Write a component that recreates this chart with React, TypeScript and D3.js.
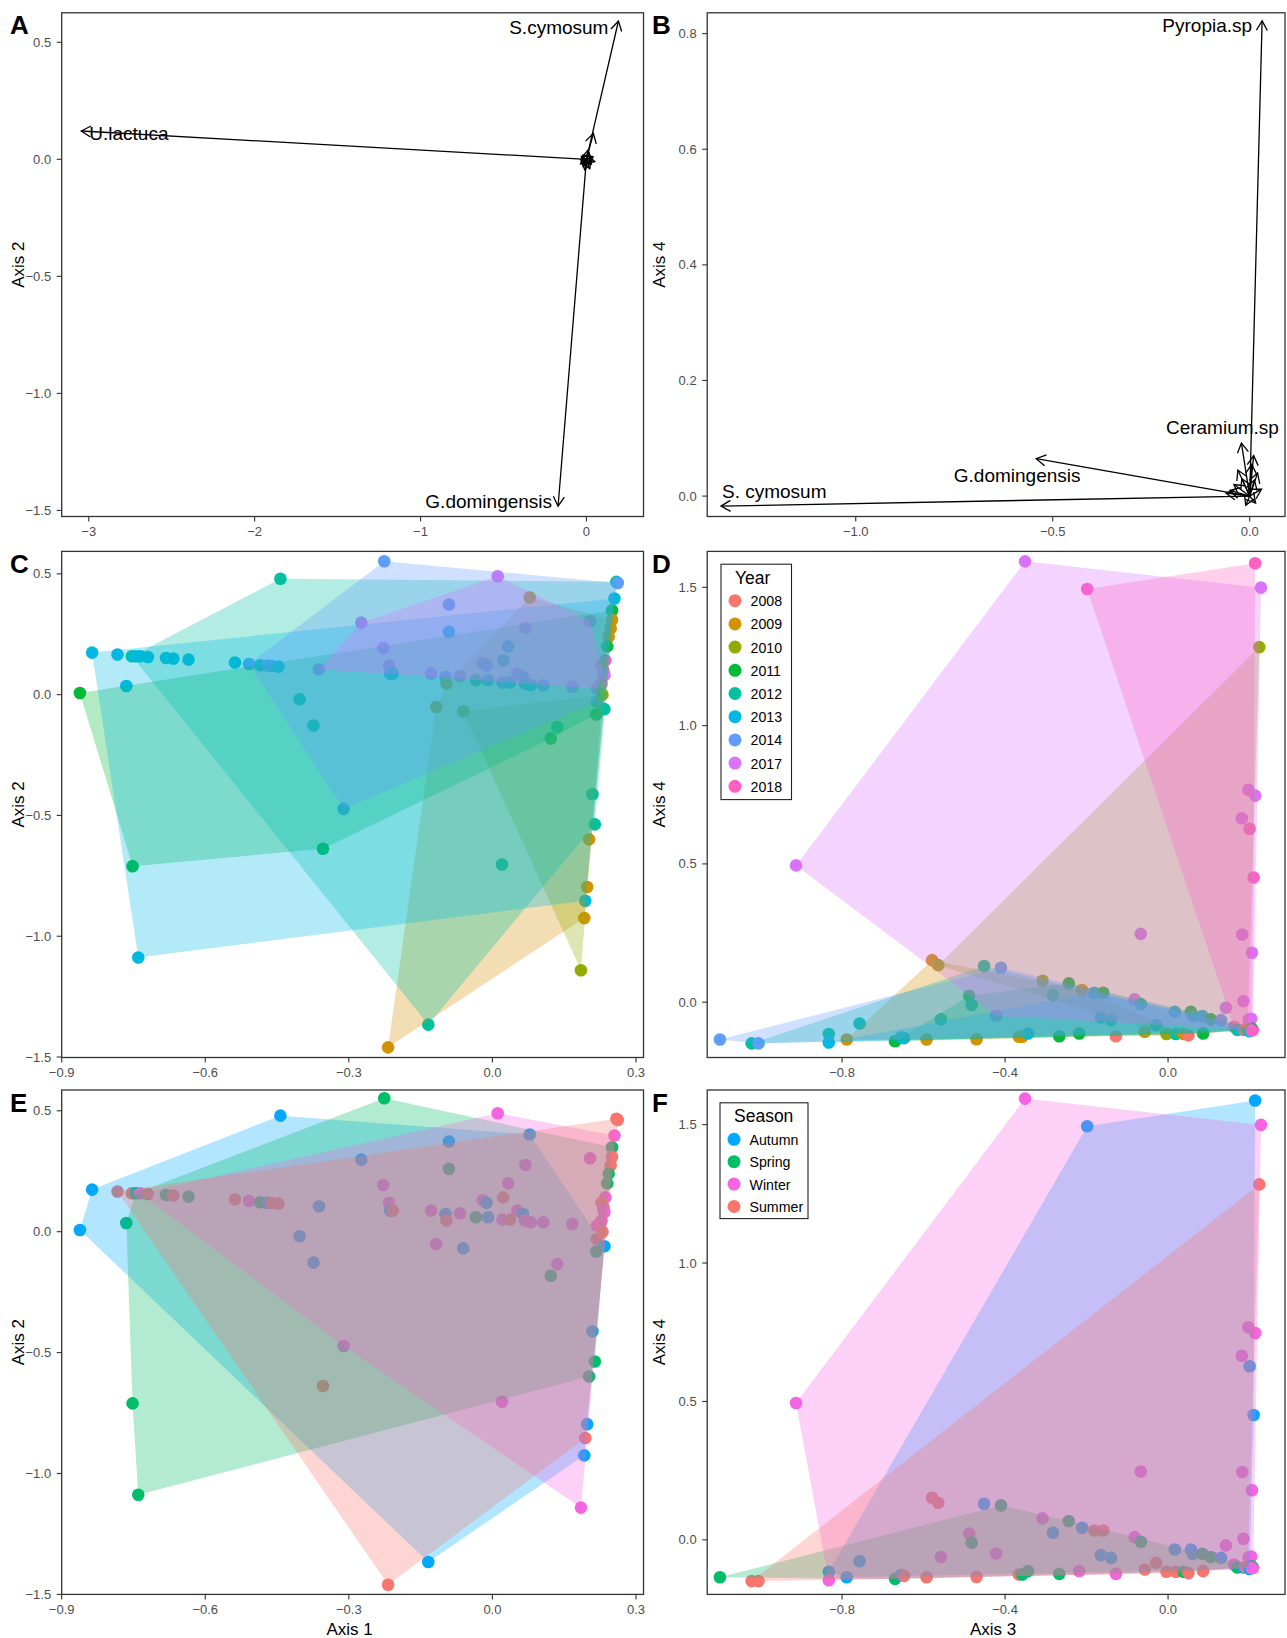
import React from "react";
import * as d3 from "d3";

// ---------------- DATA ----------------
const years = ["2008", "2009", "2010", "2011", "2012", "2013", "2014", "2017", "2018"];
const yearColors = ["#F8766D", "#D39200", "#93AA00", "#00BA38", "#00C19F", "#00B9E3", "#619CFF", "#DB72FB", "#FF61C3"];
const seasons = ["Autumn", "Spring", "Winter", "Summer"];
const seasonColors = ["#00A9FF", "#00BE67", "#F564E3", "#F8766D"];

// species loadings (arrows) on axes 1-2 (panel A) and 3-4 (panel B)
const loadings12: [string, number, number][] = [
  ["S.cymosum", 0.193, 0.591],
  ["U.lactuca", -3.045, 0.121],
  ["G.domingensis", -0.171, -1.482],
  ["", 0.042, 0.111],
  ["", 0.03, -0.02], ["", -0.02, -0.03], ["", 0.01, 0.04], ["", 0.04, 0.01],
  ["", -0.03, 0.012], ["", 0.02, -0.04], ["", -0.01, -0.045], ["", 0.05, -0.01],
  ["", 0.015, 0.025], ["", -0.035, -0.02],
];
const loadings34: [string, number, number][] = [
  ["Pyropia.sp", 0.0315, 0.822],
  ["S. cymosum", -1.342, -0.0173],
  ["G.domingensis", -0.542, 0.0647],
  ["Ceramium.sp", -0.021, 0.0917],
  ["", 0.01, 0.07], ["", -0.03, 0.045], ["", 0.02, 0.04], ["", -0.05, 0.01],
  ["", -0.04, 0.02], ["", 0.015, -0.012], ["", -0.01, -0.016], ["", 0.03, 0.012],
  ["", -0.02, 0.03], ["", 0.005, 0.055], ["", -0.06, 0.005], ["", 0.012, 0.028],
];

// sample scores: [axis1, axis2, year, season]
const scores12: [number, number, string, string][] = [
  [-0.226, 0.552, "2014", "Spring"],
  [-0.443, 0.48, "2012", "Autumn"],
  [0.011, 0.49, "2017", "Winter"],
  [0.259, 0.467, "2012", "Summer"],
  [0.262, 0.462, "2014", "Summer"],
  [0.255, 0.398, "2013", "Winter"],
  [0.078, 0.402, "2009", "Autumn"],
  [-0.091, 0.373, "2014", "Autumn"],
  [-0.274, 0.298, "2017", "Autumn"],
  [-0.091, 0.26, "2013", "Spring"],
  [0.069, 0.276, "2017", "Winter"],
  [0.204, 0.304, "2017", "Winter"],
  [-0.228, 0.193, "2017", "Winter"],
  [0.033, 0.2, "2013", "Winter"],
  [0.0225, 0.142, "2012", "Summer"],
  [-0.02, 0.13, "2017", "Winter"],
  [-0.012, 0.12, "2014", "Autumn"],
  [-0.216, 0.12, "2017", "Winter"],
  [-0.214, 0.087, "2014", "Autumn"],
  [-0.208, 0.087, "2013", "Summer"],
  [-0.3625, 0.105, "2017", "Autumn"],
  [-0.8365, 0.174, "2013", "Autumn"],
  [-0.7834, 0.166, "2013", "Summer"],
  [-0.7534, 0.159, "2012", "Summer"],
  [-0.745, 0.159, "2013", "Spring"],
  [-0.736, 0.159, "2013", "Winter"],
  [-0.72, 0.156, "2013", "Summer"],
  [-0.682, 0.152, "2013", "Spring"],
  [-0.6665, 0.149, "2013", "Summer"],
  [-0.635, 0.145, "2013", "Spring"],
  [-0.538, 0.133, "2013", "Summer"],
  [-0.5085, 0.127, "2014", "Winter"],
  [-0.485, 0.122, "2012", "Spring"],
  [-0.47, 0.12, "2014", "Autumn"],
  [-0.461, 0.119, "2014", "Summer"],
  [-0.447, 0.116, "2013", "Summer"],
  [-0.862, 0.007, "2011", "Autumn"],
  [-0.765, 0.036, "2013", "Spring"],
  [-0.403, -0.019, "2012", "Autumn"],
  [-0.374, -0.128, "2012", "Autumn"],
  [-0.1175, -0.051, "2009", "Winter"],
  [-0.061, -0.069, "2010", "Autumn"],
  [-0.128, 0.087, "2017", "Winter"],
  [-0.098, 0.073, "2014", "Autumn"],
  [-0.096, 0.046, "2009", "Summer"],
  [-0.068, 0.076, "2017", "Winter"],
  [-0.0345, 0.06, "2012", "Spring"],
  [-0.009, 0.06, "2013", "Autumn"],
  [0.021, 0.05, "2014", "Winter"],
  [0.037, 0.05, "2013", "Summer"],
  [0.052, 0.087, "2017", "Winter"],
  [0.064, 0.073, "2014", "Autumn"],
  [0.068, 0.046, "2013", "Winter"],
  [0.08, 0.039, "2013", "Winter"],
  [0.106, 0.039, "2014", "Winter"],
  [0.167, 0.032, "2017", "Winter"],
  [0.218, 0.025, "2017", "Winter"],
  [0.1355, -0.134, "2012", "Winter"],
  [0.122, -0.182, "2011", "Spring"],
  [0.218, -0.03, "2014", "Summer"],
  [0.234, -0.06, "2012", "Autumn"],
  [0.217, -0.082, "2011", "Spring"],
  [0.25, 0.349, "2011", "Spring"],
  [0.25, 0.31, "2009", "Summer"],
  [0.247, 0.274, "2009", "Summer"],
  [0.243, 0.24, "2009", "Spring"],
  [0.24, 0.2, "2011", "Spring"],
  [0.236, 0.142, "2018", "Winter"],
  [0.228, 0.12, "2008", "Summer"],
  [0.232, 0.1, "2008", "Summer"],
  [0.232, 0.09, "2018", "Winter"],
  [0.234, 0.08, "2017", "Winter"],
  [0.228, 0.046, "2018", "Winter"],
  [0.225, 0.03, "2008", "Winter"],
  [0.23, 0.0, "2010", "Summer"],
  [0.209, -0.412, "2012", "Autumn"],
  [0.214, -0.537, "2012", "Spring"],
  [0.202, -0.599, "2009", "Spring"],
  [0.198, -0.796, "2009", "Autumn"],
  [0.194, -0.853, "2013", "Summer"],
  [0.192, -0.925, "2009", "Autumn"],
  [0.185, -1.141, "2010", "Winter"],
  [0.02, -0.703, "2012", "Winter"],
  [-0.311, -0.473, "2014", "Winter"],
  [-0.354, -0.638, "2011", "Summer"],
  [-0.752, -0.71, "2011", "Spring"],
  [-0.74, -1.088, "2013", "Spring"],
  [-0.134, -1.366, "2012", "Autumn"],
  [-0.218, -1.46, "2009", "Summer"],
];

// sample scores: [axis3, axis4, year, season]
const scores34: [number, number, string, string][] = [
  [-0.351, 1.594, "2017", "Winter"],
  [0.2137, 1.587, "2018", "Autumn"],
  [-0.1985, 1.494, "2018", "Autumn"],
  [0.228, 1.499, "2017", "Winter"],
  [0.224, 1.284, "2010", "Summer"],
  [-0.913, 0.4946, "2017", "Winter"],
  [0.197, 0.768, "2017", "Winter"],
  [0.214, 0.747, "2017", "Winter"],
  [0.181, 0.665, "2017", "Winter"],
  [0.2, 0.627, "2018", "Autumn"],
  [0.21, 0.451, "2018", "Autumn"],
  [0.182, 0.245, "2017", "Winter"],
  [0.206, 0.179, "2017", "Winter"],
  [0.185, 0.004, "2017", "Winter"],
  [0.198, -0.063, "2017", "Winter"],
  [0.2086, -0.101, "2017", "Winter"],
  [0.142, -0.02, "2017", "Winter"],
  [-0.067, 0.247, "2017", "Winter"],
  [-0.082, 0.01, "2017", "Winter"],
  [-1.0997, -0.135, "2014", "Spring"],
  [-1.022, -0.149, "2012", "Summer"],
  [-1.005, -0.149, "2014", "Summer"],
  [-0.8326, -0.115, "2012", "Autumn"],
  [-0.8326, -0.146, "2013", "Winter"],
  [-0.7885, -0.135, "2009", "Autumn"],
  [-0.757, -0.077, "2012", "Autumn"],
  [-0.67, -0.141, "2011", "Spring"],
  [-0.655, -0.127, "2012", "Autumn"],
  [-0.648, -0.13, "2013", "Summer"],
  [-0.5926, -0.135, "2009", "Summer"],
  [-0.579, 0.152, "2009", "Summer"],
  [-0.564, 0.134, "2010", "Summer"],
  [-0.5575, -0.062, "2012", "Winter"],
  [-0.488, 0.023, "2011", "Winter"],
  [-0.482, -0.01, "2012", "Spring"],
  [-0.47, -0.134, "2009", "Summer"],
  [-0.4515, 0.1306, "2012", "Autumn"],
  [-0.41, 0.1245, "2014", "Spring"],
  [-0.4218, -0.049, "2017", "Winter"],
  [-0.366, -0.125, "2009", "Summer"],
  [-0.358, -0.125, "2009", "Spring"],
  [-0.3436, -0.113, "2013", "Spring"],
  [-0.308, 0.0775, "2010", "Winter"],
  [-0.2825, 0.0257, "2012", "Autumn"],
  [-0.267, -0.123, "2011", "Spring"],
  [-0.2437, 0.068, "2011", "Spring"],
  [-0.218, -0.113, "2011", "Winter"],
  [-0.211, 0.0438, "2009", "Autumn"],
  [-0.181, 0.034, "2013", "Summer"],
  [-0.159, 0.034, "2011", "Summer"],
  [-0.165, -0.055, "2012", "Autumn"],
  [-0.14, -0.065, "2012", "Autumn"],
  [-0.128, -0.123, "2008", "Winter"],
  [-0.0665, -0.007, "2012", "Spring"],
  [-0.057, -0.107, "2009", "Summer"],
  [-0.0294, -0.083, "2012", "Summer"],
  [-0.004, -0.115, "2010", "Summer"],
  [0.0167, -0.035, "2013", "Autumn"],
  [0.019, -0.115, "2012", "Summer"],
  [0.038, -0.115, "2009", "Spring"],
  [0.05, -0.12, "2008", "Summer"],
  [0.056, -0.035, "2011", "Autumn"],
  [0.061, -0.05, "2012", "Autumn"],
  [0.084, -0.05, "2013", "Spring"],
  [0.086, -0.113, "2011", "Summer"],
  [0.105, -0.062, "2011", "Spring"],
  [0.13, -0.065, "2014", "Autumn"],
  [0.162, -0.089, "2018", "Winter"],
  [0.17, -0.1, "2012", "Spring"],
  [0.1855, -0.1, "2014", "Autumn"],
  [0.19, -0.098, "2008", "Summer"],
  [0.195, -0.1, "2010", "Summer"],
  [0.2, -0.105, "2013", "Autumn"],
  [0.204, -0.06, "2017", "Winter"],
  [0.205, -0.095, "2011", "Spring"],
  [0.205, -0.102, "2018", "Winter"],
];

// tick values
const ticksA_x = [-3, -2, -1, 0];
const ticksA_y = [-1.5, -1.0, -0.5, 0.0, 0.5];
const ticksB_x = [-1.0, -0.5, 0.0];
const ticksB_y = [0.0, 0.2, 0.4, 0.6, 0.8];
const ticks12_x = [-0.9, -0.6, -0.3, 0.0, 0.3];
const ticks12_y = [-1.5, -1.0, -0.5, 0.0, 0.5];
const ticks34_x = [-0.8, -0.4, 0.0];
const ticks34_y = [0.0, 0.5, 1.0, 1.5];

// ---------------- LAYOUT / STYLE ----------------
const FONT = "'Liberation Sans', Arial, Helvetica, sans-serif";
const COLL = { x0: 61.7, x1: 643.5, title: 18.5, letter: 10 };
const COLR = { x0: 707.2, x1: 1285, title: 659, letter: 652 };
const ROW1 = { y0: 12.8, y1: 516.5 };
const ROW2 = { y0: 551.4, y1: 1057.5 };
const ROW3 = { y0: 1090, y1: 1594.4 };

const labelPlacement: Record<string, { anchor: string; dx: number; dy: number }> = {
  "A:S.cymosum": { anchor: "end", dx: -10, dy: 7 },
  "A:U.lactuca": { anchor: "start", dx: 8, dy: 2 },
  "A:G.domingensis": { anchor: "end", dx: -6, dy: -5 },
  "B:Pyropia.sp": { anchor: "end", dx: -10, dy: 5 },
  "B:S. cymosum": { anchor: "start", dx: 1, dy: -15 },
  "B:G.domingensis": { anchor: "middle", dx: -19, dy: 17 },
  "B:Ceramium.sp": { anchor: "middle", dx: -19, dy: -16 },
};

type PanelCfg = {
  id: string;
  col: typeof COLL;
  row: typeof ROW1;
  xDomain: [number, number];
  yDomain: [number, number];
  xTicks: number[];
  yTicks: number[];
  xFmt: (v: number) => string;
  yFmt: (v: number) => string;
  yTitle: string;
  xTitle?: string;
};

const f1 = d3.format(".1f");
const f0 = d3.format("d");

function arrowHeadPath(x1: number, y1: number, x2: number, y2: number) {
  const len = 11;
  const ang = Math.PI / 6;
  const a = Math.atan2(y2 - y1, x2 - x1);
  const p1 = [x2 - len * Math.cos(a - ang), y2 - len * Math.sin(a - ang)];
  const p2 = [x2 - len * Math.cos(a + ang), y2 - len * Math.sin(a + ang)];
  return `M${p1[0]},${p1[1]}L${x2},${y2}L${p2[0]},${p2[1]}`;
}

function Panel({ cfg, children }: { cfg: PanelCfg; children: (x: any, y: any) => React.ReactNode }) {
  const { col, row } = cfg;
  const x = d3.scaleLinear().domain(cfg.xDomain).range([col.x0, col.x1]);
  const y = d3.scaleLinear().domain(cfg.yDomain).range([row.y1, row.y0]);
  const clipId = `clip-${cfg.id}`;
  return (
    <g>
      <defs>
        <clipPath id={clipId}>
          <rect x={col.x0} y={row.y0} width={col.x1 - col.x0} height={row.y1 - row.y0} />
        </clipPath>
      </defs>
      <g clipPath={`url(#${clipId})`}>{children(x, y)}</g>
      <rect x={col.x0} y={row.y0} width={col.x1 - col.x0} height={row.y1 - row.y0} fill="none" stroke="#333333" strokeWidth={1.3} />
      {cfg.xTicks.map((t) => (
        <g key={"xt" + t}>
          <line x1={x(t)} x2={x(t)} y1={row.y1} y2={row.y1 + 5} stroke="#333333" strokeWidth={1.1} />
          <text x={x(t)} y={row.y1 + 15} textAnchor="middle" dominantBaseline="central" fontSize={13} fill="#4D4D4D">
            {cfg.xFmt(t)}
          </text>
        </g>
      ))}
      {cfg.yTicks.map((t) => (
        <g key={"yt" + t}>
          <line x1={col.x0 - 5} x2={col.x0} y1={y(t)} y2={y(t)} stroke="#333333" strokeWidth={1.1} />
          <text x={col.x0 - 10.5} y={y(t)} textAnchor="end" dominantBaseline="central" fontSize={13} fill="#4D4D4D">
            {cfg.yFmt(t)}
          </text>
        </g>
      ))}
      <text
        transform={`translate(${col.title},${(row.y0 + row.y1) / 2}) rotate(-90)`}
        textAnchor="middle"
        dominantBaseline="central"
        fontSize={17}
        fill="#000"
      >
        {cfg.yTitle}
      </text>
      {cfg.xTitle && (
        <text x={(col.x0 + col.x1) / 2 - 3} y={row.y1 + 35} textAnchor="middle" dominantBaseline="central" fontSize={17} fill="#000">
          {cfg.xTitle}
        </text>
      )}
      <text x={col.letter} y={row.y0 + 21.5} fontSize={26} fontWeight="bold" fill="#000">
        {cfg.id}
      </text>
    </g>
  );
}

function Biplot({ data, panel, x, y }: { data: [string, number, number][]; panel: string; x: any; y: any }) {
  const ox = x(0);
  const oy = y(0);
  return (
    <g>
      {data.map((d, i) => {
        const tx = x(d[1]);
        const ty = y(d[2]);
        return (
          <g key={i}>
            <line x1={ox} y1={oy} x2={tx} y2={ty} stroke="#000" strokeWidth={1.3} />
            <path d={arrowHeadPath(ox, oy, tx, ty)} fill="none" stroke="#000" strokeWidth={1.3} />
          </g>
        );
      })}
      {data
        .filter((d) => d[0] !== "")
        .map((d) => {
          const pl = labelPlacement[`${panel}:${d[0]}`] || { anchor: "middle", dx: 0, dy: 0 };
          return (
            <text
              key={d[0]}
              x={x(d[1]) + pl.dx}
              y={y(d[2]) + pl.dy}
              textAnchor={pl.anchor as any}
              dominantBaseline="central"
              fontSize={19}
              fill="#000"
            >
              {d[0]}
            </text>
          );
        })}
    </g>
  );
}

function HullPlot({
  data,
  groups,
  colors,
  groupIndex,
  x,
  y,
}: {
  data: [number, number, string, string][];
  groups: string[];
  colors: string[];
  groupIndex: 2 | 3;
  x: any;
  y: any;
}) {
  const colorOf = (g: string) => colors[groups.indexOf(g)];
  return (
    <g>
      {data.map((d, i) => (
        <circle key={"p" + i} cx={x(d[0])} cy={y(d[1])} r={6.3} fill={colorOf(d[groupIndex])} />
      ))}
      {groups.map((g, gi) => {
        const pts = data.filter((d) => d[groupIndex] === g).map((d) => [x(d[0]), y(d[1])] as [number, number]);
        if (pts.length < 3) return null;
        const hull = d3.polygonHull(pts);
        if (!hull) return null;
        return <path key={"h" + g} d={"M" + hull.map((p) => p.join(",")).join("L") + "Z"} fill={colors[gi]} fillOpacity={0.3} stroke="none" />;
      })}
    </g>
  );
}

function Legend({ x0, y0, w, h, title, items, colors, step }: any) {
  return (
    <g>
      <rect x={x0} y={y0} width={w} height={h} fill="#fff" stroke="#222" strokeWidth={1.1} />
      <text x={x0 + 14} y={y0 + 13.5} dominantBaseline="central" fontSize={17.5} fill="#000">
        {title}
      </text>
      {items.map((it: string, i: number) => (
        <g key={it}>
          <circle cx={x0 + 14} cy={y0 + 36.5 + i * step} r={6.5} fill={colors[i]} />
          <text x={x0 + 29.5} y={y0 + 37 + i * step} dominantBaseline="central" fontSize={14.2} fill="#000">
            {it}
          </text>
        </g>
      ))}
    </g>
  );
}

const panels: Record<string, PanelCfg> = {
  A: { id: "A", col: COLL, row: ROW1, xDomain: [-3.163, 0.344], yDomain: [-1.526, 0.626], xTicks: ticksA_x, yTicks: ticksA_y, xFmt: f0, yFmt: f1, yTitle: "Axis 2" },
  B: { id: "B", col: COLR, row: ROW1, xDomain: [-1.377, 0.0896], yDomain: [-0.0353, 0.836], xTicks: ticksB_x, yTicks: ticksB_y, xFmt: f1, yFmt: f1, yTitle: "Axis 4" },
  C: { id: "C", col: COLL, row: ROW2, xDomain: [-0.9, 0.3157], yDomain: [-1.502, 0.593], xTicks: ticks12_x, yTicks: ticks12_y, xFmt: f1, yFmt: f1, yTitle: "Axis 2" },
  D: { id: "D", col: COLR, row: ROW2, xDomain: [-1.131, 0.287], yDomain: [-0.2, 1.63], xTicks: ticks34_x, yTicks: ticks34_y, xFmt: f1, yFmt: f1, yTitle: "Axis 4" },
  E: { id: "E", col: COLL, row: ROW3, xDomain: [-0.9, 0.3157], yDomain: [-1.5, 0.586], xTicks: ticks12_x, yTicks: ticks12_y, xFmt: f1, yFmt: f1, yTitle: "Axis 2", xTitle: "Axis 1" },
  F: { id: "F", col: COLR, row: ROW3, xDomain: [-1.131, 0.287], yDomain: [-0.197, 1.625], xTicks: ticks34_x, yTicks: ticks34_y, xFmt: f1, yFmt: f1, yTitle: "Axis 4", xTitle: "Axis 3" },
};

export default function App() {
  return (
    <svg
      width={1287}
      height={1638}
      style={{ position: "absolute", left: 0, top: 0, background: "#fff" }}
      fontFamily={FONT}
    >
      <rect x={0} y={0} width={1287} height={1638} fill="#fff" />
      <Panel cfg={panels.A}>{(x, y) => <Biplot data={loadings12} panel="A" x={x} y={y} />}</Panel>
      <Panel cfg={panels.B}>{(x, y) => <Biplot data={loadings34} panel="B" x={x} y={y} />}</Panel>
      <Panel cfg={panels.C}>
        {(x, y) => <HullPlot data={scores12} groups={years} colors={yearColors} groupIndex={2} x={x} y={y} />}
      </Panel>
      <Panel cfg={panels.D}>
        {(x, y) => <HullPlot data={scores34} groups={years} colors={yearColors} groupIndex={2} x={x} y={y} />}
      </Panel>
      <Panel cfg={panels.E}>
        {(x, y) => <HullPlot data={scores12} groups={seasons} colors={seasonColors} groupIndex={3} x={x} y={y} />}
      </Panel>
      <Panel cfg={panels.F}>
        {(x, y) => <HullPlot data={scores34} groups={seasons} colors={seasonColors} groupIndex={3} x={x} y={y} />}
      </Panel>
      <Legend x0={721} y0={564.2} w={70.5} h={235.4} title="Year" items={years} colors={yearColors} step={23.2} />
      <Legend x0={720} y0={1102.8} w={88} h={115.8} title="Season" items={seasons} colors={seasonColors} step={22.4} />
    </svg>
  );
}
